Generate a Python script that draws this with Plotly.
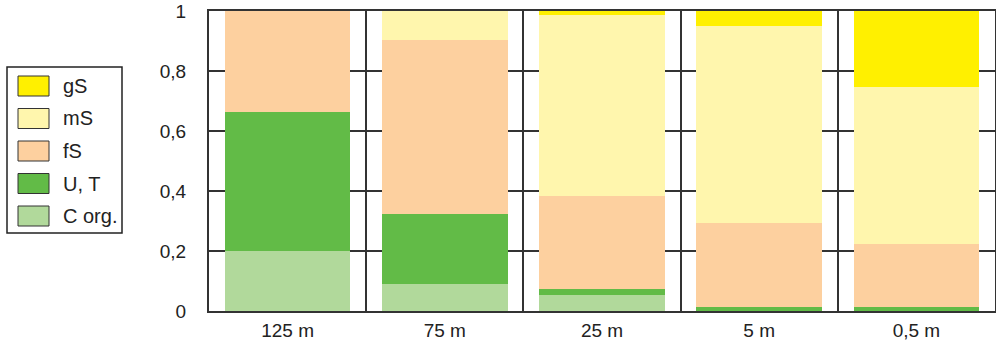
import plotly.graph_objects as go

# Sampling sites (distance) and grain-size fractions per site
categories = ["125 m", "75 m", "25 m", "5 m", "0,5 m"]
c_org = [0.20, 0.09, 0.055, 0.0, 0.0]
u_t = [0.465, 0.235, 0.02, 0.013, 0.013]
f_s = [0.335, 0.58, 0.31, 0.28, 0.21]
m_s = [0.0, 0.095, 0.602, 0.657, 0.524]
g_s = [0.0, 0.0, 0.013, 0.05, 0.253]

# Stacking order bottom -> top
series = [
    ("C org.", c_org, "#b1d99b"),
    ("U, T", u_t, "#62bb47"),
    ("fS", f_s, "#fdd09f"),
    ("mS", m_s, "#fff6ad"),
    ("gS", g_s, "#fff000"),
]

FONT = "Liberation Sans, Arial, sans-serif"
W, H = 996, 343
ML, MR, MT, MB = 209, 1, 11, 32
PW, PH = W - ML - MR, H - MT - MB

fig = go.Figure()
for name, vals, color in series:
    fig.add_trace(go.Bar(
        x=categories, y=vals, name=name,
        marker=dict(color=color, line=dict(width=0)),
        width=0.8, showlegend=False,
    ))


def px_x(p):
    return (p - ML) / PW


def px_y(p):
    return (H - MB - p) / PH


# Hand-drawn legend box with large swatches (top entry = top of stack)
shapes = [dict(type="rect", xref="paper", yref="paper",
               x0=px_x(7), x1=px_x(122), y0=px_y(233), y1=px_y(67),
               line=dict(color="#222", width=1.5), fillcolor="white", layer="above")]
annotations = []
for i, (name, _, color) in enumerate(reversed(series)):
    cy = 86 + i * 32.5
    shapes.append(dict(type="rect", xref="paper", yref="paper",
                       x0=px_x(18), x1=px_x(49), y0=px_y(cy + 10), y1=px_y(cy - 10),
                       line=dict(color="#333", width=1), fillcolor=color, layer="above"))
    annotations.append(dict(xref="paper", yref="paper", x=px_x(61), y=px_y(cy),
                            text=name, showarrow=False, xanchor="left", yanchor="middle",
                            font=dict(family=FONT, size=20, color="#222")))

fig.update_layout(
    width=W, height=H,
    margin=dict(l=ML, r=MR, t=MT, b=MB, pad=0, autoexpand=False),
    barmode="stack",
    bargap=0.2,
    plot_bgcolor="white", paper_bgcolor="white",
    separators=",.",
    font=dict(family=FONT, size=19, color="#222"),
    shapes=shapes,
    annotations=annotations,
    showlegend=False,
)
fig.update_xaxes(
    type="category", tickson="boundaries", showgrid=True,
    gridcolor="#333", gridwidth=1.6, ticks="", automargin=False,
    showline=True, mirror=True, linecolor="#333", linewidth=2,
    tickfont=dict(size=19), ticklabelstandoff=1,
)
fig.update_yaxes(
    range=[0, 1], tickvals=[0, 0.2, 0.4, 0.6, 0.8, 1],
    showgrid=True, gridcolor="#333", gridwidth=1.6, zeroline=False,
    showline=True, mirror=True, linecolor="#333", linewidth=2, automargin=False,
    ticks="", ticklabelstandoff=17, tickfont=dict(size=19),
)

fig.write_html("out.html")
